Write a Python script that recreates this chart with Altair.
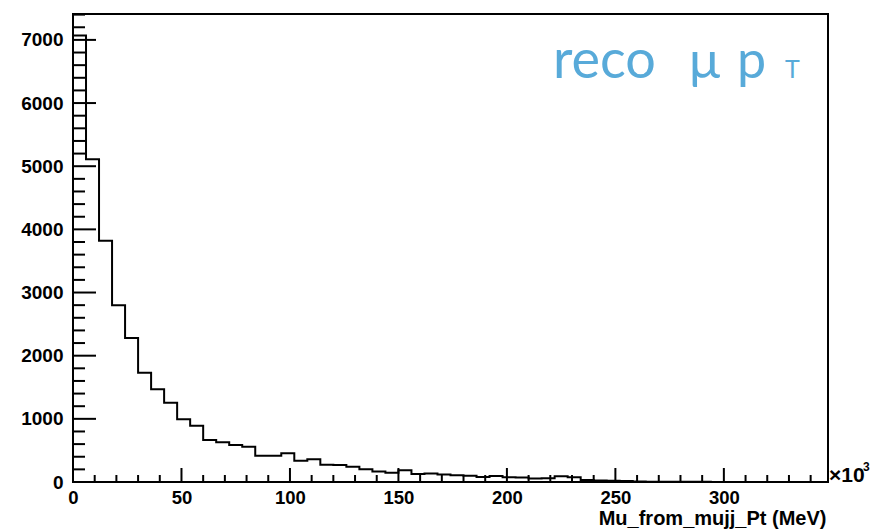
import altair as alt
import pandas as pd

# ---- data ----
bin_width = 6  # x10^3 MeV
counts = [7070, 5110, 3820, 2800, 2280, 1730, 1470, 1255, 995, 890,
          665, 628, 586, 559, 417, 417, 454, 336, 359, 272,
          268, 243, 201, 165, 145, 185, 125, 135, 120, 105,
          100, 80, 95, 75, 72, 55, 60, 90, 75, 30,
          25, 20, 15, 8, 5, 4, 3, 2, 2, 1,
          1, 1, 0, 0, 0, 0, 0, 0]
x_major = [0, 50, 100, 150, 200, 250, 300]
x_minor = [v for v in range(0, 350, 10) if v % 50 != 0]
y_major = [0, 1000, 2000, 3000, 4000, 5000, 6000, 7000]
y_minor = [v for v in range(0, 7500, 200) if v % 1000 != 0]

X_MAX = bin_width * len(counts)
Y_MAX = 7410
W, H = 755, 468
FONT = "Liberation Sans"

edges = [i * bin_width for i in range(len(counts))] + [X_MAX]
vals = counts + [counts[-1]]
hist = pd.DataFrame({"x": edges, "y": vals})

xs = alt.Scale(domain=[0, X_MAX], nice=False, zero=False)
ys = alt.Scale(domain=[0, Y_MAX], nice=False)

x_axis = alt.Axis(
    values=x_major, ticks=False, tickSize=0, domain=False, grid=False,
    labelFlush=False, labelPadding=6, labelFont=FONT, labelFontWeight="bold",
    labelFontSize=18.5, labelColor="black", format="d",
    title="Mu_from_mujj_Pt (MeV)", titleFont=FONT, titleFontWeight="bold",
    titleFontSize=20, titleColor="black", titleAlign="right",
    titleBaseline="alphabetic", titleX=W - 2, titleY=42, titleAnchor="end")
y_axis = alt.Axis(
    values=y_major, ticks=False, tickSize=0, domain=False, grid=False,
    labelFlush=False, labelPadding=10, labelFont=FONT, labelFontWeight="bold",
    labelFontSize=19, labelColor="black", format="d", title=None)

line = alt.Chart(hist).mark_line(
    interpolate="step-after", color="black", strokeWidth=2
).encode(
    x=alt.X("x:Q", scale=xs, axis=x_axis),
    y=alt.Y("y:Q", scale=ys, axis=y_axis),
)

def xticks(vals_, length):
    return alt.Chart(pd.DataFrame({"x": vals_})).mark_rule(
        color="black", strokeWidth=2
    ).encode(x=alt.X("x:Q", scale=xs, axis=x_axis),
             y=alt.value(H), y2=alt.value(H - length))

def yticks(vals_, length):
    return alt.Chart(pd.DataFrame({"y": vals_})).mark_rule(
        color="black", strokeWidth=2
    ).encode(y=alt.Y("y:Q", scale=ys, axis=y_axis),
             x=alt.value(0), x2=alt.value(length))

def label(text, x, y, size, color="black", weight="normal", font=FONT):
    return alt.Chart(pd.DataFrame({"t": [text]})).mark_text(
        align="left", baseline="alphabetic", fontSize=size, color=color,
        fontWeight=weight, font=font
    ).encode(text="t:N", x=alt.value(x), y=alt.value(y))

BLUE = "#58aad9"
chart = alt.layer(
    line,
    xticks(x_major, 14), xticks(x_minor, 7),
    yticks(y_major, 23), yticks(y_minor, 12),
    label("×10", W + 1, H, 21, weight="bold"),
    label("3", W + 35, H - 11, 12, weight="bold"),
    label("reco", 553 - 73, 78 - 14, 54, color=BLUE, font="Lato"),
    label("μ", 689 - 73, 78 - 14, 52, color=BLUE, font="Lato"),
    label("p", 737 - 73, 78 - 14, 52, color=BLUE, font="Lato"),
    label("T", 785 - 73, 78 - 14, 25, color=BLUE, font="Lato"),
).properties(
    width=W, height=H,
    autosize=alt.AutoSizeParams(type="none"),
    padding={"left": 73, "top": 14, "right": 42, "bottom": 47},
    background="white",
).configure_view(stroke="black", strokeWidth=2)

chart.save("out.html", embed_options={"renderer": "svg", "actions": False})
